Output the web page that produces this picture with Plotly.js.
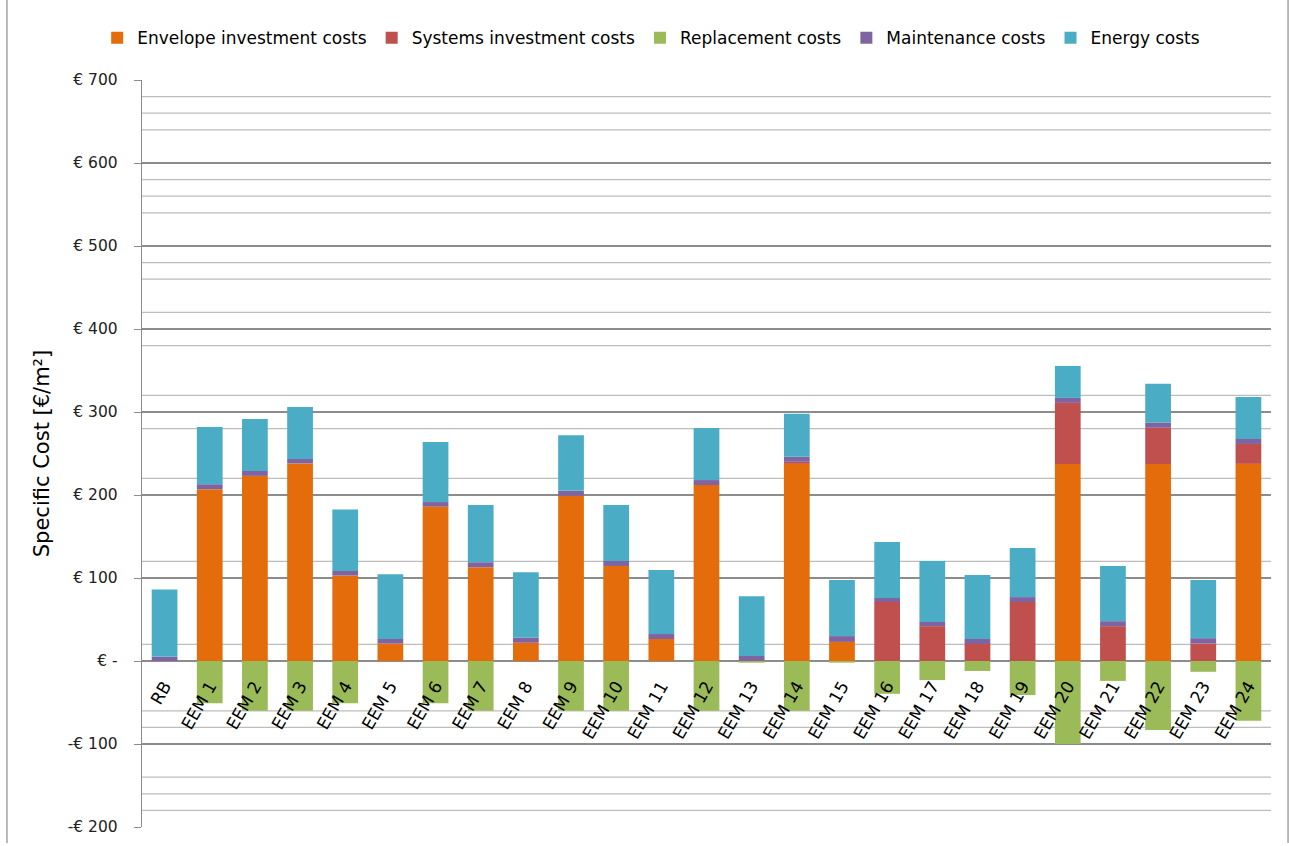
<!DOCTYPE html>
<html>
<head>
<meta charset="utf-8">
<script src="https://cdn.plot.ly/plotly-3.0.1.min.js"></script>
<style>html,body{margin:0;padding:0;background:#fff;}#chart{width:1289px;height:846px;}</style>
</head>
<body>
<div id="chart"></div>
<script>
const categories = ["RB","EEM 1","EEM 2","EEM 3","EEM 4","EEM 5","EEM 6","EEM 7","EEM 8","EEM 9","EEM 10","EEM 11","EEM 12","EEM 13","EEM 14","EEM 15","EEM 16","EEM 17","EEM 18","EEM 19","EEM 20","EEM 21","EEM 22","EEM 23","EEM 24"];
const envelopeCosts    = [0, 207, 223, 238, 103, 21, 186, 113, 22, 199, 114.5, 26.5, 212, 0, 237.5, 23, 0, 0, 0, 0, 237.5, 0, 237.5, 0, 237.5];
const systemsCosts     = [0, 0, 0, 0, 0, 0, 0, 0, 0, 0, 0, 0, 0, 0, 2.5, 0, 71, 42, 20.5, 71, 73.5, 42, 43.5, 21, 24];
const replacementCosts = [0, -51, -60, -60, -51, 0, -51, -60, 0, -60, -60, 0, -60, -2, -60, -2, -39.5, -23, -12, -41, -100, -24, -83, -13, -72];
const maintenanceCosts = [5, 6, 6, 5.5, 5.5, 5.5, 5.5, 6, 6, 6, 6, 6, 6, 6, 6, 7, 5, 5, 6, 6, 6, 6, 6, 6.5, 6];
const energyCosts      = [81, 69, 62.5, 62.5, 74, 78, 72.5, 69, 79, 67, 67.5, 77, 62.7, 72, 52, 67.6, 67.4, 73.5, 77, 59, 38.5, 66.5, 47, 70, 50.5];

const yTickVals = [-200,-100,0,100,200,300,400,500,600,700];
const yTickText = ["-€ 200","-€ 100","€ -","€ 100","€ 200","€ 300","€ 400","€ 500","€ 600","€ 700"];
const minorGrid = [680,660,640,580,560,540,480,460,420,380,320,280,220,120,20,-60,-80,-140,-160,-180];

const seriesNames = ["Envelope investment costs","Systems investment costs","Replacement costs","Maintenance costs","Energy costs"];
const seriesData = [envelopeCosts, systemsCosts, replacementCosts, maintenanceCosts, energyCosts];
const seriesColors = ["#E46C0A","#C0504D","#9BBB59","#8064A2","#4BACC6"];

const FONT = "DejaVu Sans";

const traces = seriesNames.map((n,i)=>({
  type:'bar', name:n, x:categories, y:seriesData[i],
  marker:{color:seriesColors[i], line:{width:0}},
  hoverinfo:'x+y+name'
}));

const shapes = [];
minorGrid.forEach(v=>shapes.push({type:'line',xref:'paper',x0:0,x1:1,yref:'y',y0:v,y1:v,line:{color:'#BDBDBD',width:1.2},layer:'below'}));
// chart outer border (left and right)
shapes.push({type:'line',xref:'paper',yref:'paper',x0:-0.1196,x1:-0.1196,y0:-0.0214,y1:1.107,line:{color:'#8C8C8C',width:1.2}});
shapes.push({type:'line',xref:'paper',yref:'paper',x0:1.0151,x1:1.0151,y0:-0.0214,y1:1.107,line:{color:'#8C8C8C',width:1.2}});

const layout = {
  width:1289, height:846,
  margin:{l:142, r:18, t:80, b:19, autoexpand:false},
  paper_bgcolor:'#fff', plot_bgcolor:'#fff',
  barmode:'relative', bargap:0.43,
  font:{family:FONT, color:'#000'},
  showlegend:true,
  legend:{orientation:'h', x:0.451, xanchor:'center', y:1.056, yanchor:'middle',
          font:{size:17, family:FONT, color:'#000'},
          itemwidth:30, traceorder:'normal'},
  xaxis:{type:'category', anchor:'free', position:200/900, showline:false, showgrid:false, zeroline:false,
         ticks:'', tickangle:-60, ticklabelstandoff:11,
         tickfont:{size:17, family:FONT, color:'#000'},
         range:[-0.5, 24.5]},
  yaxis:{range:[-200,700], tickvals:yTickVals, ticktext:yTickText, ticks:'outside', ticklen:7, tickcolor:'#8C8C8C',
         showline:true, linecolor:'#8C8C8C', linewidth:1.2, mirror:false,
         showgrid:true, gridcolor:'#8C8C8C', gridwidth:1.3, zeroline:true, zerolinecolor:'#8C8C8C', zerolinewidth:1.3,
         tickfont:{size:15.5, family:FONT, color:'#222'}, ticklabelstandoff:13,
         title:{text:'Specific Cost [€/m²]', font:{size:21, family:FONT, color:'#000'}, standoff:12}},
  shapes:shapes
};
Plotly.newPlot('chart', traces, layout, {displayModeBar:false, staticPlot:true});
</script>
</body>
</html>
